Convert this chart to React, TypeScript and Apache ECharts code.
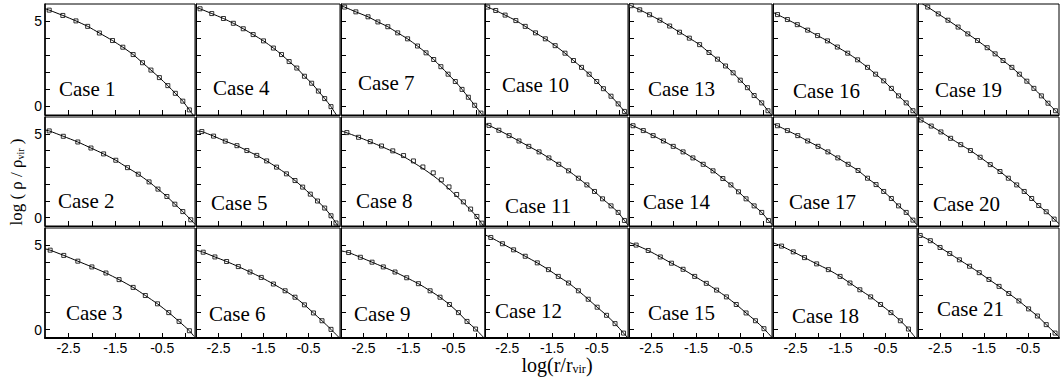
import React, { useEffect, useRef } from "react";
import * as echarts from "echarts";

// ---- tick values / labels ----
const xTickValues = [-2.5, -2, -1.5, -1, -0.5, 0];
const xTickLabels = [-2.5, -1.5, -0.5];
const yTickValues = [0, 1, 2, 3, 4, 5];
const yTickLabels = [0, 5];
const caseNames = Array.from({ length: 21 }, (_, i) => `Case ${i + 1}`);

// ---- data: log(r/rvir) (X) and log(rho/rho_vir) (Y) for each case ----
const case1X = [-2.91, -2.62, -2.34, -2.09, -1.84, -1.56, -1.34, -1.12, -0.92, -0.74, -0.56, -0.38, -0.22, -0.06, 0.08];
const case1Y = [5.64, 5.33, 5.01, 4.69, 4.3, 3.86, 3.47, 3.04, 2.56, 2.13, 1.69, 1.22, 0.77, 0.31, -0.2];
const case2X = [-2.91, -2.61, -2.3, -2.02, -1.75, -1.49, -1.24, -1.01, -0.78, -0.59, -0.4, -0.23, -0.06, 0.11];
const case2Y = [5.17, 4.85, 4.51, 4.15, 3.8, 3.42, 2.98, 2.59, 2.13, 1.7, 1.26, 0.8, 0.36, -0.13];
const case3X = [-2.89, -2.6, -2.3, -2.0, -1.7, -1.42, -1.12, -0.86, -0.6, -0.36, -0.14, 0.08];
const case3Y = [4.69, 4.38, 4.04, 3.7, 3.34, 2.95, 2.49, 2.01, 1.52, 1.0, 0.48, -0.07];
const case4X = [-2.91, -2.65, -2.39, -2.17, -1.95, -1.73, -1.5, -1.28, -1.1, -0.93, -0.76, -0.59, -0.43, -0.28, -0.14, 0.0];
const case4Y = [5.72, 5.44, 5.15, 4.87, 4.55, 4.21, 3.84, 3.42, 3.04, 2.63, 2.25, 1.77, 1.36, 0.9, 0.46, -0.01];
const case5X = [-2.87, -2.61, -2.35, -2.09, -1.87, -1.65, -1.43, -1.21, -0.99, -0.8, -0.63, -0.46, -0.3, -0.14, 0.0, 0.11];
const case5Y = [5.13, 4.86, 4.56, 4.29, 4.0, 3.71, 3.38, 3.01, 2.61, 2.21, 1.82, 1.4, 0.99, 0.57, 0.11, -0.32];
const case6X = [-2.84, -2.58, -2.32, -2.06, -1.8, -1.55, -1.28, -1.02, -0.8, -0.59, -0.39, -0.2, 0.0];
const case6Y = [4.57, 4.29, 4.02, 3.72, 3.4, 3.08, 2.69, 2.29, 1.91, 1.46, 0.98, 0.52, 0.01];
const case7X = [-2.92, -2.67, -2.4, -2.18, -1.96, -1.74, -1.52, -1.3, -1.11, -0.94, -0.78, -0.62, -0.46, -0.31, -0.17, -0.03, 0.11];
const case7Y = [5.82, 5.54, 5.25, 4.95, 4.67, 4.31, 3.96, 3.54, 3.14, 2.75, 2.33, 1.89, 1.46, 1.0, 0.54, 0.07, -0.39];
const case8X = [-2.87, -2.61, -2.35, -2.1, -1.85, -1.61, -1.39, -1.18, -0.95, -0.77, -0.6, -0.43, -0.28, -0.12, 0.02, 0.13];
const case8Y = [5.07, 4.79, 4.53, 4.27, 3.98, 3.7, 3.38, 3.02, 2.67, 2.25, 1.83, 1.38, 0.94, 0.51, 0.07, -0.33];
const case8FitX = [-3.0, -2.61, -2.1, -1.61, -1.18, -0.95, -0.77, -0.6, -0.43, -0.28, -0.12, 0.02, 0.13, 0.17];
const case8FitY = [5.18, 4.8, 4.24, 3.64, 2.93, 2.5, 2.12, 1.71, 1.28, 0.89, 0.46, 0.04, -0.36, -0.5];
const case9X = [-2.83, -2.57, -2.31, -2.06, -1.8, -1.54, -1.28, -1.02, -0.8, -0.59, -0.39, -0.2, -0.01];
const case9Y = [4.55, 4.27, 3.98, 3.7, 3.4, 3.06, 2.71, 2.29, 1.91, 1.48, 1.0, 0.48, 0.03];
const case10X = [-2.94, -2.76, -2.55, -2.31, -2.1, -1.87, -1.65, -1.43, -1.21, -1.02, -0.84, -0.67, -0.5, -0.35, -0.18, -0.02, 0.12];
const case10Y = [5.82, 5.62, 5.35, 5.03, 4.69, 4.31, 3.96, 3.56, 3.12, 2.69, 2.29, 1.89, 1.46, 1.04, 0.6, 0.15, -0.29];
const case11X = [-2.91, -2.69, -2.46, -2.24, -2.02, -1.79, -1.57, -1.35, -1.13, -0.91, -0.72, -0.55, -0.37, -0.18, -0.02, 0.12];
const case11Y = [5.5, 5.21, 4.89, 4.57, 4.25, 3.92, 3.56, 3.18, 2.79, 2.35, 1.95, 1.56, 1.12, 0.7, 0.31, -0.17];
const case12X = [-2.87, -2.61, -2.36, -2.1, -1.83, -1.58, -1.36, -1.13, -0.91, -0.69, -0.49, -0.28, -0.09, 0.1];
const case12Y = [5.44, 5.07, 4.71, 4.33, 3.94, 3.54, 3.14, 2.75, 2.29, 1.79, 1.32, 0.84, 0.35, -0.21];
const case13X = [-2.95, -2.76, -2.54, -2.31, -2.09, -1.87, -1.65, -1.42, -1.21, -1.02, -0.84, -0.67, -0.51, -0.35, -0.2, -0.03, 0.11];
const case13Y = [5.9, 5.66, 5.37, 5.05, 4.71, 4.35, 4.0, 3.62, 3.16, 2.77, 2.37, 1.97, 1.54, 1.1, 0.64, 0.21, -0.25];
const case14X = [-2.91, -2.68, -2.46, -2.23, -2.01, -1.79, -1.57, -1.34, -1.12, -0.9, -0.72, -0.55, -0.38, -0.2, -0.03, 0.12];
const case14Y = [5.48, 5.19, 4.89, 4.57, 4.25, 3.92, 3.56, 3.18, 2.79, 2.33, 1.95, 1.54, 1.12, 0.7, 0.31, -0.17];
const case15X = [-2.84, -2.57, -2.3, -2.05, -1.79, -1.53, -1.27, -1.04, -0.82, -0.6, -0.38, -0.17, 0.02];
const case15Y = [4.99, 4.67, 4.29, 3.92, 3.56, 3.14, 2.73, 2.33, 1.93, 1.48, 0.98, 0.52, 0.05];
const case16X = [-2.9, -2.68, -2.46, -2.23, -2.01, -1.79, -1.57, -1.34, -1.12, -0.9, -0.72, -0.54, -0.37, -0.21, -0.04, 0.11];
const case16Y = [5.38, 5.09, 4.79, 4.47, 4.15, 3.84, 3.48, 3.12, 2.73, 2.29, 1.89, 1.5, 1.06, 0.62, 0.21, -0.25];
const case17X = [-2.9, -2.68, -2.45, -2.23, -2.0, -1.78, -1.56, -1.33, -1.11, -0.9, -0.71, -0.54, -0.37, -0.21, -0.04, 0.11];
const case17Y = [5.48, 5.19, 4.89, 4.57, 4.25, 3.92, 3.56, 3.18, 2.81, 2.35, 1.97, 1.56, 1.14, 0.7, 0.31, -0.15];
const case18X = [-2.81, -2.55, -2.3, -2.03, -1.77, -1.51, -1.29, -1.07, -0.83, -0.61, -0.38, -0.17, 0.01];
const case18Y = [4.93, 4.59, 4.25, 3.88, 3.54, 3.14, 2.75, 2.35, 1.93, 1.48, 1.0, 0.52, 0.03];
const case19X = [-2.78, -2.54, -2.32, -2.09, -1.87, -1.65, -1.43, -1.25, -1.07, -0.87, -0.7, -0.53, -0.37, -0.2, -0.05, 0.12];
const case19Y = [5.82, 5.42, 5.05, 4.65, 4.25, 3.86, 3.44, 3.08, 2.69, 2.29, 1.89, 1.48, 1.06, 0.62, 0.19, -0.25];
const case20X = [-2.93, -2.7, -2.48, -2.26, -2.03, -1.81, -1.59, -1.36, -1.14, -0.95, -0.76, -0.59, -0.42, -0.26, -0.09, 0.09];
const case20Y = [5.82, 5.46, 5.11, 4.73, 4.35, 4.0, 3.6, 3.16, 2.75, 2.35, 1.95, 1.56, 1.14, 0.72, 0.35, -0.09];
const case21X = [-2.95, -2.72, -2.5, -2.28, -2.06, -1.83, -1.61, -1.39, -1.16, -0.94, -0.71, -0.49, -0.29, -0.09, 0.11];
const case21Y = [5.56, 5.25, 4.85, 4.49, 4.12, 3.74, 3.36, 2.96, 2.55, 2.13, 1.69, 1.22, 0.8, 0.29, -0.21];

// fitted-curve end points beyond the first/last data point, per case (x, y)
const lineHeadX = [-3, -3, -3, -3, -3, -3, -3, -3, -3, -3, -3, -3, -3, -3, -3, -3, -3, -3, -2.9, -3, -3];
const lineHeadY = [5.73, 5.22, 4.77, 5.81, 5.17, 4.69, 5.9, 5.18, 4.65, 5.92, 5.62, 5.6, 5.98, 5.6, 5.15, 5.51, 5.61, 5.13, 6.0, 5.93, 5.63];
const lineTailX = [0.16, 0.2, 0.18, 0.12, 0.16, 0.19, 0.14, 0.17, 0.18, 0.19, 0.2, 0.2, 0.19, 0.2, 0.2, 0.19, 0.2, 0.17, 0.2, 0.2, 0.2];
const lineTailY = [-0.5, -0.39, -0.4, -0.5, -0.5, -0.5, -0.5, -0.5, -0.5, -0.5, -0.44, -0.5, -0.5, -0.41, -0.47, -0.5, -0.43, -0.5, -0.46, -0.36, -0.43];

const caseXs = [case1X, case2X, case3X, case4X, case5X, case6X, case7X, case8X, case9X, case10X, case11X, case12X, case13X, case14X, case15X, case16X, case17X, case18X, case19X, case20X, case21X];
const caseYs = [case1Y, case2Y, case3Y, case4Y, case5Y, case6Y, case7Y, case8Y, case9Y, case10Y, case11Y, case12Y, case13Y, case14Y, case15Y, case16Y, case17Y, case18Y, case19Y, case20Y, case21Y];

// ---- layout (pixels) ----
const colLeft = [45, 196, 341, 485, 629, 773, 918];
const colWidth = [150, 144, 144, 143, 143, 144, 141];
const rowTop = [4, 117, 228];
const rowHeight = [111, 109, 110];
const labelPos: [number, number][] = [
  [59, 89], [58, 201], [66, 313],
  [213, 88], [211, 203], [209, 314],
  [358, 83], [356, 201], [354, 314],
  [502, 85], [505, 206], [495, 311],
  [648, 89], [643, 202], [648, 313],
  [793, 91], [789, 202], [792, 316],
  [935, 90], [933, 204], [937, 309],
];

const SERIF = "Liberation Serif";
const SANS = "Liberation Sans";

function zip(xs: number[], ys: number[]) {
  return xs.map((x, i) => [x, ys[i]]);
}

export default function App() {
  const ref = useRef<HTMLDivElement>(null);

  useEffect(() => {
    document.body.style.margin = "0";
    if (!ref.current) return;
    const chart = echarts.init(ref.current, undefined, { renderer: "svg" });

    const grids: any[] = [];
    const xAxes: any[] = [];
    const yAxes: any[] = [];
    const series: any[] = [];
    const graphics: any[] = [];

    for (let i = 0; i < 21; i++) {
      const col = Math.floor(i / 3);
      const row = i % 3;
      grids.push({
        left: colLeft[col],
        top: rowTop[row],
        width: colWidth[col],
        height: rowHeight[row],
        show: true,
        borderColor: "#000",
        borderWidth: 1,
        backgroundColor: "transparent",
      });
      xAxes.push({
        gridIndex: i,
        type: "value",
        min: -3,
        max: 0.2,
        axisLine: { show: true, onZero: false, lineStyle: { color: "#000", width: row === 2 ? 2 : 1 } },
        axisTick: { show: true, inside: true, length: 5, customValues: xTickValues, lineStyle: { color: "#000", width: 1 } },
        axisLabel: {
          show: row === 2,
          customValues: xTickLabels,
          formatter: (v: number) => String(v),
          color: "#000",
          fontSize: 14,
          lineHeight: 13,
          fontFamily: SANS,
          margin: 3,
        },
        splitLine: { show: false },
      });
      yAxes.push({
        gridIndex: i,
        type: "value",
        min: -0.5,
        max: 6,
        axisLine: { show: true, onZero: false, lineStyle: { color: "#000", width: col === 0 ? 1.5 : 1 } },
        axisTick: { show: true, inside: true, length: 5, customValues: yTickValues, lineStyle: { color: "#000", width: 1 } },
        axisLabel: {
          show: col === 0,
          customValues: yTickLabels,
          color: "#000",
          fontSize: 14,
          fontFamily: SANS,
          margin: 3,
        },
        splitLine: { show: false },
      });

      const pts = zip(caseXs[i], caseYs[i]);
      const linePts =
        i === 7
          ? zip(case8FitX, case8FitY)
          : [[lineHeadX[i], lineHeadY[i]], ...pts, [lineTailX[i], lineTailY[i]]];

      series.push({
        type: "line",
        xAxisIndex: i,
        yAxisIndex: i,
        data: linePts,
        symbol: "none",
        smooth: 0.2,
        clip: true,
        silent: true,
        lineStyle: { color: "#000", width: 1 },
      });
      series.push({
        type: "scatter",
        xAxisIndex: i,
        yAxisIndex: i,
        data: pts,
        symbol: "rect",
        symbolSize: 4,
        silent: true,
        itemStyle: { color: "#fff", borderColor: "#000", borderWidth: 1 },
      });

      graphics.push({
        type: "text",
        x: labelPos[i][0],
        y: labelPos[i][1],
        silent: true,
        style: {
          text: `{c|${caseNames[i]}}`,
          fill: "#000",
          align: "left",
          verticalAlign: "middle",
          rich: {
            c: { fontSize: 21, fontFamily: SERIF, fill: "#000", lineHeight: 22 },
          },
        },
      });
    }

    graphics.push({
      type: "text",
      x: 557,
      y: 355,
      silent: true,
      style: {
        text: "{m|log(r/r}{sub|vir}{m|)}",
        fill: "#000",
        align: "center",
        verticalAlign: "top",
        rich: {
          m: { fontSize: 20, fontFamily: SERIF, fill: "#000", lineHeight: 18, verticalAlign: "top" },
          sub: { fontSize: 12, fontFamily: SERIF, fill: "#000", lineHeight: 12, padding: [10, 0, 0, 0] },
        },
      },
    });
    graphics.push({
      type: "text",
      x: 16,
      y: 182,
      rotation: Math.PI / 2,
      silent: true,
      style: {
        text: "{m|log ( ρ / ρ}{sub|vir}{m| )}",
        fill: "#000",
        align: "center",
        verticalAlign: "middle",
        rich: {
          m: { fontSize: 17, fontFamily: SERIF, fill: "#000", lineHeight: 17, verticalAlign: "top" },
          sub: { fontSize: 10, fontFamily: SERIF, fill: "#000", lineHeight: 10, padding: [8, 0, 0, 0] },
        },
      },
    });

    chart.setOption({
      animation: false,
      backgroundColor: "#fff",
      grid: grids,
      xAxis: xAxes,
      yAxis: yAxes,
      series,
      graphic: graphics,
    });

    return () => chart.dispose();
  }, []);

  return (
    <div
      ref={ref}
      style={{ position: "absolute", left: 0, top: 0, width: 1060, height: 378 }}
    />
  );
}
